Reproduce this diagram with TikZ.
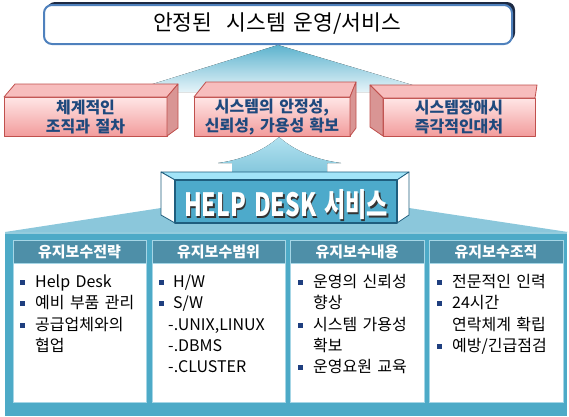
\documentclass[tikz,border=0pt]{standalone}
\usepackage{fontspec}
\setmainfont[WordSpace=1.5]{Noto Sans CJK KR}
\usepackage{graphicx}
\definecolor{topblue}{HTML}{4F81BD}
\definecolor{shadowc}{HTML}{1C2A44}
\definecolor{fantop}{HTML}{5DB3CE}
\definecolor{fanbot}{HTML}{E6F4F9}
\definecolor{redborder}{HTML}{C0504D}
\definecolor{redlight}{HTML}{FFE6E6}
\definecolor{reddark}{HTML}{F29C9C}
\definecolor{redtop}{HTML}{F7BDBD}
\definecolor{redside}{HTML}{D99594}
\definecolor{navytext}{HTML}{1F497D}
\definecolor{panelc}{HTML}{4DAAC7}
\definecolor{trapc}{HTML}{8BC7DB}
\definecolor{headerc}{HTML}{4E8FA8}
\definecolor{headerb}{HTML}{A6D6E6}
\definecolor{hdface}{HTML}{4DAACB}
\definecolor{hdtop}{HTML}{A2E4F8}
\definecolor{hdborder}{HTML}{1F5E7E}
\definecolor{bulletc}{HTML}{1F3F7F}
\definecolor{arrowtop}{HTML}{B2E2F0}
\definecolor{arrowbot}{HTML}{80C4DA}
\tikzset{
  itm/.style={anchor=west, inner sep=0pt, font=\fontsize{16}{19}\selectfont, text height=12pt, text depth=3pt},
  bul/.style={rectangle, fill=bulletc, minimum size=5pt, inner sep=0pt},
  hdr/.style={font=\fontsize{15}{18}\selectfont\bfseries, text=white},
  redtext/.style={align=center, text=navytext, font=\fontsize{16}{19}\selectfont\bfseries},
  redface/.style={draw=redborder, line width=0.8pt, line join=round},
  hdline/.style={draw=hdborder, line width=0.8pt, line join=round},
  colbody/.style={fill=white, draw=headerb, line width=0.8pt},
  colhead/.style={fill=headerc, draw=headerb, line width=0.8pt}
}
\begin{document}
\begin{tikzpicture}[x=1pt,y=-1pt]
\useasboundingbox (0,0) rectangle (569,416);
% fan from the top box
\fill[top color=fantop, bottom color=fanbot] (278,45) -- (127,92) -- (436,92) -- cycle;
% top box
\fill[shadowc, rounded corners=8pt] (47,2) rectangle (515,41);
\draw[topblue, line width=2pt, fill=white, rounded corners=8pt] (44,5) rectangle (512,44);
\node[font=\fontsize{21.5}{24}\selectfont] (title) at (277,24) {안정된~~시스템 운영/서비스};
% red box 1
\path[redface, top color=redlight, bottom color=reddark] (4,97) rectangle (167,136);
\path[redface, fill=redtop] (4,97) -- (167,97) -- (178,84) -- (15,84) -- cycle;
\path[redface, fill=redside] (167,97) -- (178,84) -- (178,128) -- (167,136) -- cycle;
\node[redtext] (r1) at (85.5,117.5) {체계적인\\조직과 절차};
% red box 2
\path[redface, top color=redlight, bottom color=reddark] (194,97) rectangle (350,136);
\path[redface, fill=redtop] (194,97) -- (350,97) -- (356,82) -- (206,82) -- cycle;
\path[redface, fill=redside] (350,97) -- (356,82) -- (356,128) -- (350,136) -- cycle;
\node[redtext] (r2) at (272,117.5) {시스템의 안정성,\\신뢰성, 가용성 확보};
% red box 3
\path[redface, top color=redlight, bottom color=reddark] (383,98) rectangle (535,136);
\path[redface, fill=redtop] (383,98) -- (535,98) -- (537,85) -- (370,85) -- cycle;
\path[redface, fill=redside] (370,85) -- (383,98) -- (383,136) -- (370,127) -- cycle;
\node[redtext] (r3) at (459,117.5) {시스템장애시\\즉각적인대처};
% up arrow
\fill[top color=arrowtop, bottom color=arrowbot] (279,137) .. controls (262,152) and (240,160) .. (218,163) -- (232,163) -- (232,176) -- (327,176) -- (327,163) -- (341,163) .. controls (318,160) and (296,152) .. (279,137) -- cycle;
% bottom trapezoid and panel
\fill[trapc] (5,232) -- (161,208) -- (409,208) -- (568,232) -- cycle;
\fill[panelc] (5,232) rectangle (567,416);
\draw[panelc!60!white, line width=1.5pt] (5,233) -- (567,233);
% HELP DESK box
\path[hdline, fill=hdtop] (161,172) -- (409,172) -- (397,180) -- (175,180) -- cycle;
\path[hdline, fill=white] (161,172) -- (175,180) -- (175,223) -- (161,215) -- cycle;
\path[hdline, fill=white] (409,172) -- (397,180) -- (397,223) -- (409,215) -- cycle;
\path[hdline, fill=hdface, line width=1.2pt] (175,180) rectangle (397,223);
\node[text=black!80, font=\fontsize{32}{32}\selectfont\bfseries] (hdshadow) at (287.5,206.5) {\scalebox{0.72}[1]{HELP DESK 서비스}};
\node[text=white, font=\fontsize{32}{32}\selectfont\bfseries] (hd) at (286,205) {\scalebox{0.72}[1]{HELP DESK 서비스}};
% columns
\path[colbody] (13,263) rectangle (146,402);
\path[colhead] (13,240) rectangle (146,263);
\path[colbody] (152,263) rectangle (285,402);
\path[colhead] (152,240) rectangle (285,263);
\path[colbody] (290,263) rectangle (424,402);
\path[colhead] (290,240) rectangle (424,263);
\path[colbody] (429,263) rectangle (563,402);
\path[colhead] (429,240) rectangle (563,263);
\node[hdr] (h1) at (79.5,252) {유지보수전략};
\node[hdr] (h2) at (218.5,252) {유지보수범위};
\node[hdr] (h3) at (357,252) {유지보수내용};
\node[hdr] (h4) at (496,252) {유지보수조직};
% column 1
\node[bul] (b1a) at (22.5,282.5) {};
\node[itm] (t1a) at (35,283) {Help Desk};
\node[bul] (b1b) at (22.5,303.5) {};
\node[itm] (t1b) at (35,304) {예비 부품 관리};
\node[bul] (b1c) at (22.5,325) {};
\node[itm] (t1c) at (35,325.5) {공급업체와의};
\node[itm] (t1d) at (35,346.5) {협업};
% column 2
\node[bul] (b2a) at (161.5,282.5) {};
\node[itm] (t2a) at (173,283) {H/W};
\node[bul] (b2b) at (161.5,303.5) {};
\node[itm] (t2b) at (173,304) {S/W};
\node[itm] (t2c) at (168,325.5) {-.UNIX,LINUX};
\node[itm] (t2d) at (168,346.5) {-.DBMS};
\node[itm] (t2e) at (168,367.5) {-.CLUSTER};
% column 3
\node[bul] (b3a) at (300.5,282.5) {};
\node[itm] (t3a) at (313,283) {운영의 신뢰성};
\node[itm] (t3b) at (313,304) {향상};
\node[bul] (b3c) at (300.5,325) {};
\node[itm] (t3c) at (313,325.5) {시스템 가용성};
\node[itm] (t3d) at (313,346.5) {확보};
\node[bul] (b3e) at (300.5,367) {};
\node[itm] (t3e) at (313,367.5) {운영요원 교육};
% column 4
\node[bul] (b4a) at (439.5,282.5) {};
\node[itm] (t4a) at (452,283) {전문적인 인력};
\node[bul] (b4b) at (439.5,303.5) {};
\node[itm] (t4b) at (452,304) {24시간};
\node[itm] (t4c) at (452,325.5) {연락체계 확립};
\node[bul] (b4d) at (439.5,346) {};
\node[itm] (t4d) at (452,346.5) {예방/긴급점검};
\end{tikzpicture}
\end{document}
